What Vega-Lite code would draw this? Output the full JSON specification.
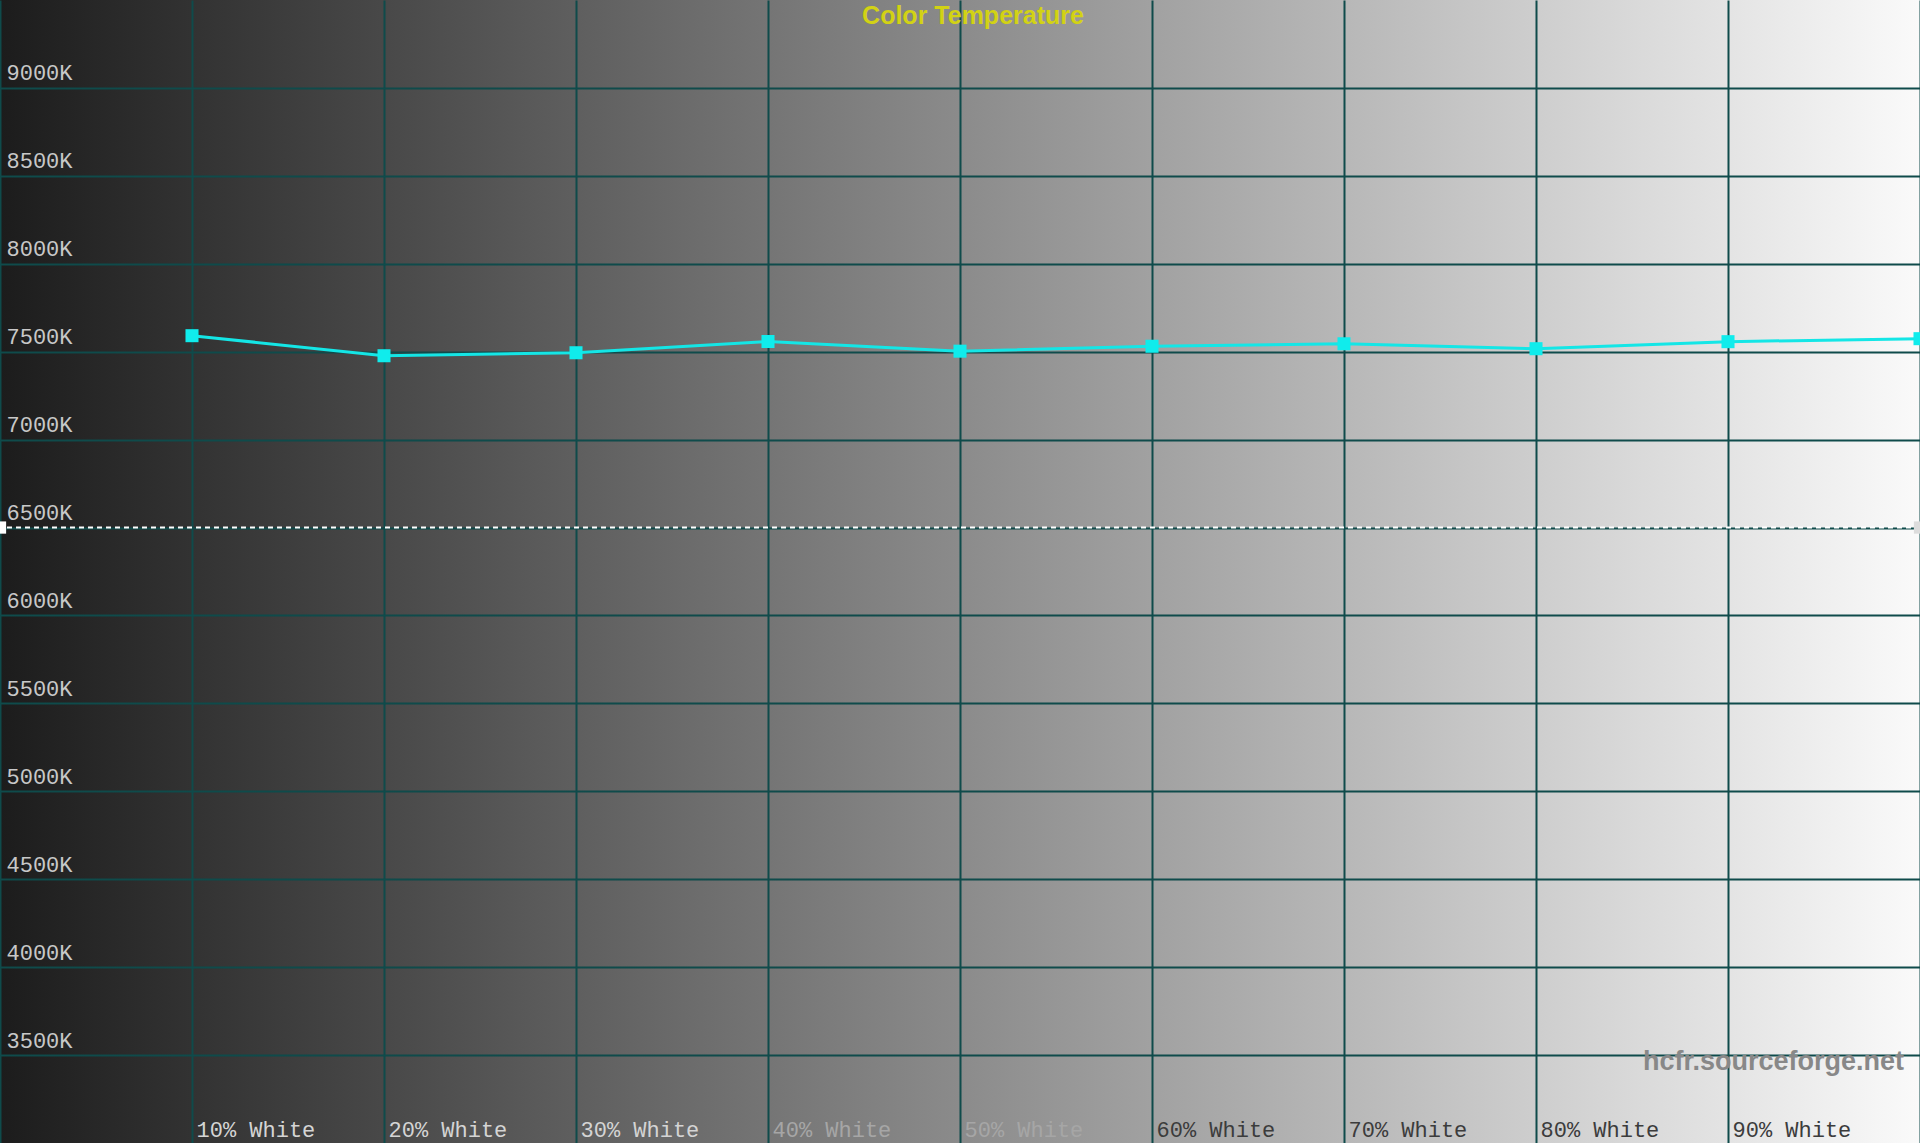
{
  "$schema": "https://vega.github.io/schema/vega-lite/v6.json",
  "width": 1920,
  "height": 1143,
  "autosize": {"type": "none"},
  "padding": 0,
  "background": "#1e1e1e",
  "view": {
    "stroke": null,
    "fill": {
      "gradient": "linear",
      "x1": 0, "y1": 0, "x2": 1, "y2": 0,
      "stops": [
        {"offset": 0, "color": "#1c1c1c"},
        {"offset": 1, "color": "#fafafa"}
      ]
    }
  },
  "data": {
    "values": [
      {"level": 1, "cct": 7591},
      {"level": 2, "cct": 7477},
      {"level": 3, "cct": 7494},
      {"level": 4, "cct": 7558},
      {"level": 5, "cct": 7503},
      {"level": 6, "cct": 7531},
      {"level": 7, "cct": 7545},
      {"level": 8, "cct": 7517},
      {"level": 9, "cct": 7557},
      {"level": 10, "cct": 7574}
    ]
  },
  "layer": [
    {
      "data": {"values": [{"ref": 6500}]},
      "mark": {"type": "rule", "color": "#ffffff", "strokeWidth": 2, "strokeDash": [5, 4]},
      "encoding": {
        "y": {"field": "ref", "type": "quantitative", "title": null}
      }
    },
    {
      "data": {"values": [{"ref": 6500}]},
      "mark": {"type": "square", "color": "#ffffff", "size": 150, "opacity": 1},
      "encoding": {
        "x": {"datum": 0},
        "y": {"field": "ref", "type": "quantitative", "title": null}
      }
    },
    {
      "data": {"values": [{"ref": 6500}]},
      "mark": {"type": "square", "color": "#dcdcdc", "size": 150, "opacity": 1},
      "encoding": {
        "x": {"datum": 10},
        "y": {"field": "ref", "type": "quantitative", "title": null}
      }
    },
    {
      "mark": {"type": "line", "color": "#14e6e6", "strokeWidth": 3, "clip": true},
      "encoding": {
        "x": {
          "field": "level",
          "type": "quantitative",
          "scale": {"domain": [0, 10], "nice": false, "zero": false},
          "axis": {
            "orient": "bottom",
            "values": [0, 1, 2, 3, 4, 5, 6, 7, 8, 9, 10],
            "title": null,
            "domain": false,
            "ticks": false,
            "tickSize": 0,
            "labelAlign": "left",
            "labelBaseline": "alphabetic",
            "labelPadding": -7,
            "labelOffset": 4,
            "labelFont": "Liberation Mono",
            "labelFontSize": 22,
            "labelExpr": "datum.value >= 1 && datum.value <= 9 ? (datum.value * 10) + '% White' : ''",
            "labelColor": {
              "condition": [
                {"test": "datum.value <= 3", "value": "#d4d4d4"},
                {"test": "datum.value <= 5", "value": "#a6a6a6"}
              ],
              "value": "#3c3c3c"
            },
            "labelOverlap": false,
            "labelFlush": false,
            "labelBound": false,
            "grid": true,
            "gridColor": "#0f4b4b",
            "gridWidth": 2,
            "gridOpacity": 1
          }
        },
        "y": {
          "field": "cct",
          "type": "quantitative",
          "scale": {"domain": [3000, 9500], "nice": false, "zero": false},
          "axis": {
            "orient": "left",
            "values": [3500, 4000, 4500, 5000, 5500, 6000, 6500, 7000, 7500, 8000, 8500, 9000],
            "title": null,
            "domain": false,
            "ticks": false,
            "tickSize": 0,
            "labelAlign": "left",
            "labelBaseline": "alphabetic",
            "labelPadding": -6,
            "labelOffset": -8,
            "labelFont": "Liberation Mono",
            "labelFontSize": 22,
            "labelColor": "#c8c8c8",
            "labelExpr": "datum.value + 'K'",
            "labelOverlap": false,
            "labelFlush": false,
            "labelBound": false,
            "grid": true,
            "gridColor": "#0f4b4b",
            "gridWidth": 2,
            "gridOpacity": 1
          }
        }
      }
    },
    {
      "mark": {"type": "square", "color": "#10ecec", "size": 170, "opacity": 1, "clip": true},
      "encoding": {
        "x": {"field": "level", "type": "quantitative"},
        "y": {"field": "cct", "type": "quantitative"}
      }
    },
    {
      "data": {"values": [{"label": "Color Temperature"}]},
      "mark": {
        "type": "text",
        "font": "Liberation Sans",
        "fontWeight": "bold",
        "fontSize": 25,
        "color": "#d2d214",
        "align": "center",
        "baseline": "top",
        "dx": 13,
        "dy": 4
      },
      "encoding": {
        "x": {"datum": 5},
        "y": {"datum": 9500},
        "text": {"field": "label", "type": "nominal"}
      }
    },
    {
      "data": {"values": [{"label": "hcfr.sourceforge.net"}]},
      "mark": {
        "type": "text",
        "font": "Liberation Sans",
        "fontWeight": "bold",
        "fontSize": 27,
        "color": "#888888",
        "align": "right",
        "baseline": "alphabetic",
        "dx": -16
      },
      "encoding": {
        "x": {"datum": 10},
        "y": {"datum": 3415},
        "text": {"field": "label", "type": "nominal"}
      }
    }
  ],
  "config": {
    "view": {"stroke": null}
  }
}
